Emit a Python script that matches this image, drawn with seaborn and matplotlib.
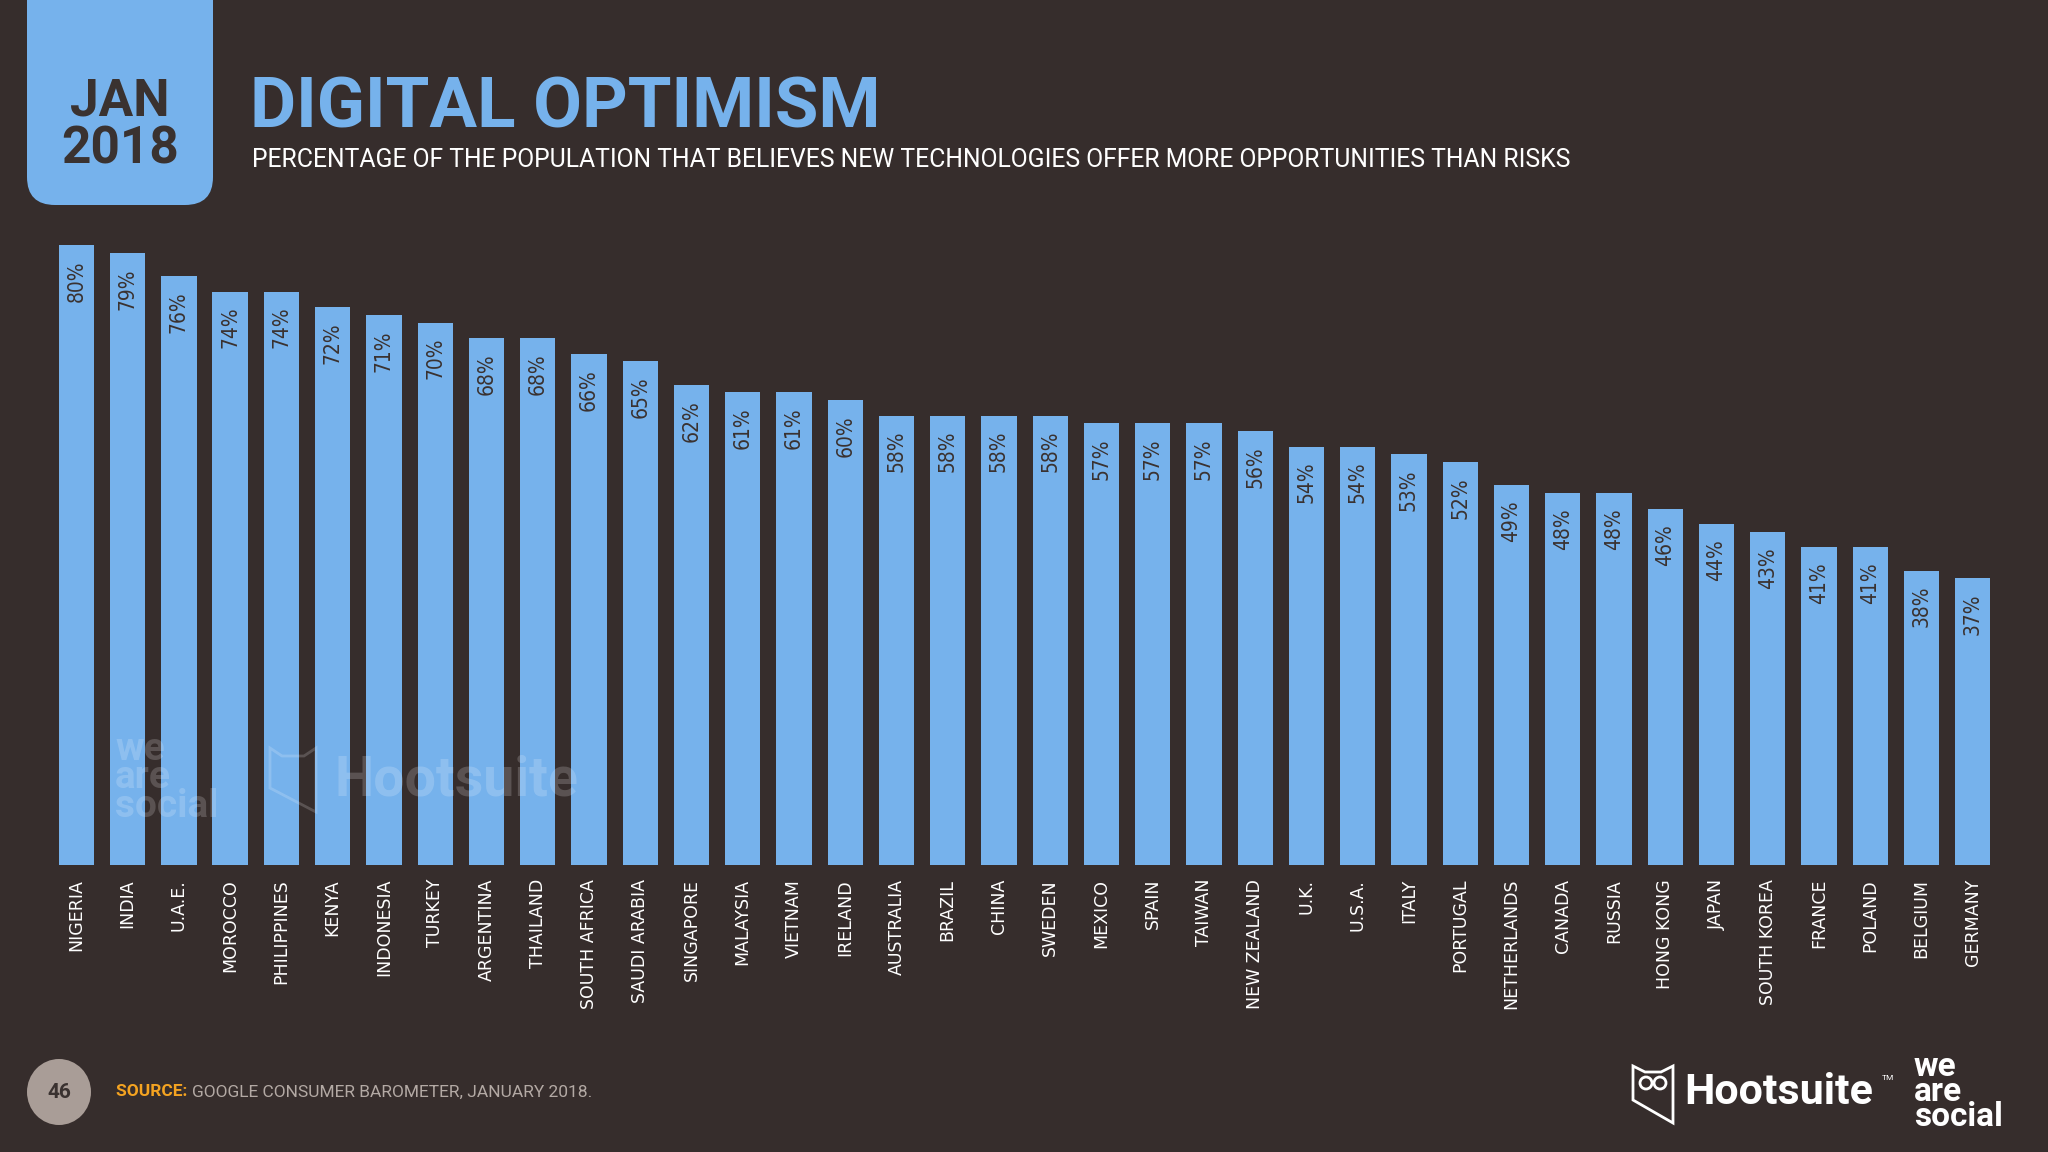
import matplotlib
matplotlib.use("Agg")
import matplotlib.pyplot as plt
import seaborn as sns
from matplotlib.patches import FancyBboxPatch, Polygon, Circle, Ellipse

# data
countries = ["NIGERIA", "INDIA", "U.A.E.", "MOROCCO", "PHILIPPINES", "KENYA", "INDONESIA",
             "TURKEY", "ARGENTINA", "THAILAND", "SOUTH AFRICA", "SAUDI ARABIA", "SINGAPORE",
             "MALAYSIA", "VIETNAM", "IRELAND", "AUSTRALIA", "BRAZIL", "CHINA", "SWEDEN",
             "MEXICO", "SPAIN", "TAIWAN", "NEW ZEALAND", "U.K.", "U.S.A.", "ITALY",
             "PORTUGAL", "NETHERLANDS", "CANADA", "RUSSIA", "HONG KONG", "JAPAN",
             "SOUTH KOREA", "FRANCE", "POLAND", "BELGIUM", "GERMANY"]
optimism = [80, 79, 76, 74, 74, 72, 71, 70, 68, 68, 66, 65, 62, 61, 61, 60, 58, 58, 58, 58,
            57, 57, 57, 56, 54, 54, 53, 52, 49, 48, 48, 46, 44, 43, 41, 41, 38, 37]

title = "DIGITAL OPTIMISM"
subtitle = ("PERCENTAGE OF THE POPULATION THAT BELIEVES NEW TECHNOLOGIES "
            "OFFER MORE OPPORTUNITIES THAN RISKS")
source = "GOOGLE CONSUMER BAROMETER, JANUARY 2018."

BG = "#362d2c"
BLUE = "#76b2ec"
DARK = "#3a3230"

sns.set_theme(style="dark", rc={"figure.facecolor": BG, "axes.facecolor": BG})
plt.rcParams["font.family"] = ["Roboto", "DejaVu Sans"]

fig = plt.figure(figsize=(20.48, 11.52), dpi=100)
fig.patch.set_facecolor(BG)

# bar axes
ax = fig.add_axes([0.0248, 0.2491, 0.951, 0.5651])
sns.barplot(x=countries, y=optimism, color=BLUE, saturation=1, width=0.69, linewidth=0,
            ax=ax)
ax.set_ylim(0, 84)
ax.set_xlim(-0.5, len(countries) - 0.5)
ax.set_facecolor(BG)
for s in ax.spines.values():
    s.set_visible(False)
ax.set_yticks([])
ax.set_xlabel("")
ax.set_ylabel("")
ax.tick_params(axis="x", length=0, pad=10, colors="white")
ax.set_xticks(range(len(countries)))
ax.set_xticklabels(countries, rotation=90, fontsize=12.5, color="white",
                   family=["DejaVu Sans"], va="top")

for i, v in enumerate(optimism):
    ax.annotate(f"{v}%", (i, v), xytext=(0, -11), textcoords="offset points",
                rotation=90, ha="center", va="top", fontsize=15, color=DARK,
                family=["DejaVu Sans"], fontstretch="condensed")

# overlay in pixel coordinates
ov = fig.add_axes([0, 0, 1, 1], facecolor="none")
ov.set_xlim(0, 2048)
ov.set_ylim(1152, 0)
ov.axis("off")

# date box
ov.add_patch(FancyBboxPatch((27, -60), 186, 265, boxstyle="round,pad=0,rounding_size=28",
                            fc=BLUE, ec="none"))
ov.text(120, 102, "JAN", ha="center", va="center", fontsize=37, fontweight="bold", color=DARK)
ov.text(120, 150, "2018", ha="center", va="center", fontsize=37, fontweight="bold", color=DARK)

ov.text(250, 108, title, ha="left", va="center", fontsize=51, fontweight="bold", color=BLUE)
ov.text(252, 160, subtitle, ha="left", va="center", fontsize=17.8, color="white")

# watermark
ov.text(115, 778, "we\nare\nsocial", ha="left", va="center", fontsize=28, fontweight="bold",
        color="white", alpha=0.18, linespacing=0.72)
ov.add_patch(Polygon([(270, 748), (282, 756), (304, 756), (316, 748), (316, 812), (270, 788)],
                     closed=True, fc="none", ec="white", lw=2, alpha=0.18))
ov.text(334, 780, "Hootsuite", fontsize=40, fontweight="bold", color="white", alpha=0.18,
        va="center")

# footer
ov.add_patch(Ellipse((59, 1092), 64, 66, fc="#a99d97", ec="none"))
ov.text(59, 1092, "46", ha="center", va="center", fontsize=15, fontweight="bold", color=DARK)
t = ov.text(116, 1092, "SOURCE: ", ha="left", va="center", fontsize=12.5, fontweight="bold",
            color="#f4a321")
ov.annotate(source, xycoords=t, xy=(1, 0.5), ha="left", va="center", fontsize=12.5,
            color="#b3a9a4")

# logos
ov.add_patch(Polygon([(1633, 1066), (1645, 1072), (1661, 1072), (1673, 1066), (1673, 1123),
                      (1633, 1100)], closed=True, fc="none", ec="white", lw=2))
ov.add_patch(Circle((1646, 1083), 6, fc="none", ec="white", lw=2))
ov.add_patch(Circle((1660, 1083), 6, fc="none", ec="white", lw=2))
ov.text(1684, 1093, "Hootsuite", ha="left", va="center", fontsize=31, fontweight="bold",
        color="white")
ov.text(1882, 1078, "TM", ha="left", va="center", fontsize=6, color="white")
ov.text(1914, 1092, "we\nare\nsocial", ha="left", va="center", fontsize=24, fontweight="bold",
        color="white", linespacing=0.72)

fig.savefig("out.png", dpi=100, facecolor=BG)
